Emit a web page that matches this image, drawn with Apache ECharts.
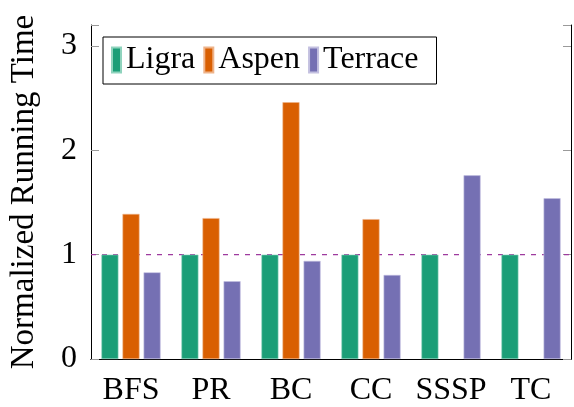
<!DOCTYPE html>
<html>
<head>
<meta charset="utf-8">
<script src="https://cdn.jsdelivr.net/npm/echarts@6/dist/echarts.min.js"></script>
<style>
  html, body { margin: 0; padding: 0; background: #fff; }
  #chart { width: 574px; height: 407px; }
</style>
</head>
<body>
<div id="chart"></div>
<script>
const categories = ['BFS', 'PR', 'BC', 'CC', 'SSSP', 'TC']
const ligra = [1, 1, 1, 1, 1, 1]
const aspen = [1.39, 1.35, 2.46, 1.34, null, null]
const terrace = [0.83, 0.745, 0.94, 0.805, 1.76, 1.54]
const baseline = 1
const yTicks = [0, 1, 2, 3]

const serifFamily = 'Liberation Serif'
const tickGray = '#9a9a9a'

const chart = echarts.init(document.getElementById('chart'))

const barSeries = (name, data, color, border) => ({
  name,
  type: 'bar',
  data: data.map(v => (v == null ? '-' : v)),
  barWidth: 17,
  barGap: '24%',
  z: 3,
  itemStyle: { color, borderColor: border, borderWidth: 0.6 }
})

chart.setOption({
  backgroundColor: '#fff',
  animation: false,
  textStyle: { fontFamily: serifFamily, fontSize: 32 },
  grid: { left: 88, right: 3, top: 25, bottom: 47 },
  legend: {
    left: 103,
    top: 37,
    icon: 'rect',
    itemWidth: 9,
    itemHeight: 25,
    itemGap: 8,
    padding: [7, 18, 8, 8],
    borderColor: '#000',
    borderWidth: 1,
    borderRadius: 0,
    textStyle: { fontFamily: serifFamily, fontSize: 32, color: '#000' },
    data: ['Ligra', 'Aspen', 'Terrace']
  },
  xAxis: [
    {
      type: 'category',
      data: categories,
      position: 'bottom',
      axisLine: { lineStyle: { color: '#000', width: 1 } },
      axisTick: { alignWithLabel: true, inside: false, length: 10, lineStyle: { color: tickGray } },
      axisLabel: { interval: 0, fontFamily: serifFamily, fontSize: 32, color: '#000', margin: 16 }
    },
    {
      type: 'category',
      data: categories,
      position: 'top',
      axisLine: { show: true, lineStyle: { color: '#000', width: 1 } },
      axisTick: { alignWithLabel: true, inside: false, length: 10, lineStyle: { color: tickGray } },
      axisLabel: { show: false }
    },
    {
      type: 'value',
      min: 0,
      max: 1,
      show: false
    }
  ],
  yAxis: [
    {
      type: 'value',
      min: 0,
      max: 3.2,
      interval: 1,
      position: 'left',
      name: 'Normalized Running Time',
      nameLocation: 'middle',
      nameGap: 50,
      nameTextStyle: { fontFamily: serifFamily, fontSize: 33, color: '#000' },
      axisLine: { show: true, lineStyle: { color: '#000', width: 1 } },
      axisTick: { show: true, inside: true, length: 8, lineStyle: { color: tickGray } },
      splitLine: { show: false },
      axisLabel: {
        fontFamily: serifFamily, fontSize: 32, color: '#000', margin: 14,
        formatter: v => (yTicks.includes(v) ? String(v) : '')
      }
    },
    {
      type: 'value',
      min: 0,
      max: 3.2,
      interval: 1,
      position: 'right',
      axisLine: { show: true, lineStyle: { color: '#000', width: 1 } },
      axisTick: { show: true, inside: true, length: 8, lineStyle: { color: tickGray } },
      splitLine: { show: false },
      axisLabel: { show: false }
    }
  ],
  series: [
    barSeries('Ligra', ligra, '#1b9e77', '#8fd3bd'),
    barSeries('Aspen', aspen, '#d95f02', '#eeb38a'),
    barSeries('Terrace', terrace, '#7570b3', '#c3c0e0'),
    {
      name: 'baseline',
      type: 'line',
      xAxisIndex: 2,
      yAxisIndex: 0,
      data: [[0, baseline], [1, baseline]],
      symbol: 'none',
      silent: true,
      z: 1,
      lineStyle: { color: '#9e3a9e', type: [5, 6], width: 1.1 }
    }
  ]
})
</script>
</body>
</html>
